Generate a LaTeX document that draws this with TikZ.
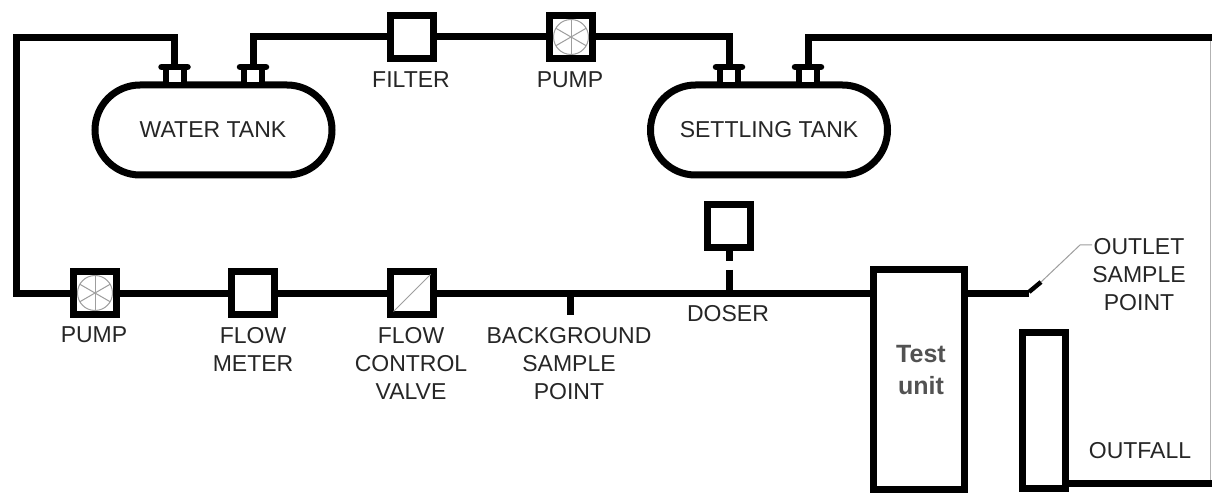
\documentclass[tikz,border=0pt]{standalone}
\usepackage{fontspec}
\setmainfont{Liberation Sans}
\begin{document}
\begin{tikzpicture}[x=1pt,y=-1pt,
  pipe/.style={line width=7pt,draw=black,line join=miter},
  unitbox/.style={draw=black,line width=7pt,fill=white,minimum width=43pt,minimum height=43pt,inner sep=0pt,outer sep=0pt},
  tall/.style={draw=black,line width=7pt,fill=white,inner sep=0pt,outer sep=0pt},
  tankshape/.style={draw=black,line width=7pt,fill=white,rounded corners=45pt,minimum width=237pt,minimum height=90pt,inner sep=0pt,outer sep=0pt},
  nozzle/.style={draw=black,line width=6pt,fill=white,minimum width=18pt,minimum height=18pt,inner sep=0pt,outer sep=0pt},
  flange/.style={line width=6.5pt,draw=black,line cap=round},
  thinpart/.style={draw=black!38,line width=1pt},
  lab/.style={text=black!85,font=\fontsize{23}{28}\selectfont,align=center,inner sep=0pt},
  boldlab/.style={text=black!68,font=\fontsize{25}{32}\selectfont\bfseries,align=center,inner sep=0pt}]
\useasboundingbox (0,0) rectangle (1212,494);
\fill[white] (0,0) rectangle (1212,494);

% right edge rule
\coordinate (edgetop) at (1210.5,38);
\coordinate (edgelow) at (1210.5,483);
\draw[draw=black!30,line width=1pt] (edgetop) -- (edgelow);

% tanks
\node[tankshape] (wt) at (213.5,130) {};
\node[tankshape] (st) at (769,130) {};
% nozzles
\node[nozzle] (n1) at (174.5,76) {};
\node[nozzle] (n2) at (253,76) {};
\node[nozzle] (n3) at (729,76) {};
\node[nozzle] (n4) at (808,76) {};
\foreach \n in {n1,n2,n3,n4}{
  \draw[flange] ([xshift=-13pt]\n.north west -| \n.center) -- ++(26pt,0);
}
% boxes
\node[unitbox] (filter) at (412,37) {};
\node[unitbox] (pumpa) at (571,37) {};
\node[unitbox] (pumpb) at (95,293) {};
\node[unitbox] (meter) at (253,293) {};
\node[unitbox] (valve) at (412,293) {};
\node[unitbox] (doser) at (729,226.5) {};
\node[tall,minimum width=91pt,minimum height=220pt] (test) at (919,379.5) {};
\node[tall,minimum width=43pt,minimum height=156pt] (outf) at (1044,410.5) {};

% named free ends
\coordinate (corner1) at (16,38);
\coordinate (corner2) at (16,293);
\coordinate (exitR) at (1212,38);
\coordinate (outR) at (1212,483);
\coordinate (bgend) at (570,315);
\coordinate (bgtop) at (570,293);
\coordinate (dosertop) at (729,261);
\coordinate (doserlow) at (729,270);
\coordinate (doserbase) at (729,293);
\coordinate (outend) at (1029,293);
\coordinate (tip) at (1041,282);
\coordinate (bend) at (1080,245);
\coordinate (leader) at (1092,245);

% pipes
\draw[pipe] (n1.north) |- (corner1) -- (corner2) -- (pumpb.west);
\draw[pipe] (n2.north) |- (filter.west);
\draw[pipe] (filter.east) -- (pumpa.west);
\draw[pipe] (pumpa.east) -| (n3.north);
\draw[pipe] (n4.north) |- (exitR);
\draw[pipe] (pumpb.east) -- (meter.west);
\draw[pipe] (meter.east) -- (valve.west);
\draw[pipe] (valve.east) -- (test.west |- valve.east);
\draw[pipe] (test.east |- outend) -- (outend);
\draw[pipe] (bgtop) -- (bgend);
\draw[pipe] (doser.south) -- (dosertop);
\draw[pipe] (doserlow) -- (doserbase);
\draw[pipe] (outf.east |- outR) -- (outR);
\draw[line width=4.5pt,draw=black] (outend) ++(0,-1) -- (tip);
\draw[thinpart] (tip) -- (bend) -- (leader);

% symbols
\foreach \c in {pumpa,pumpb}{
  \draw[thinpart] (\c.center) circle (17.5pt);
  \foreach \a in {90,30,150}{
    \draw[thinpart] ([shift={(\a:17.5pt)}]\c.center) -- ([shift={(\a+180:17.5pt)}]\c.center);
  }
}
\draw[thinpart] ([shift={(3pt,3pt)}]valve.south west) -- ([shift={(-3pt,-3pt)}]valve.north east);

% labels
\node[lab] (lwt) at (213,130) {WATER TANK};
\node[lab] (lst) at (769,130) {SETTLING TANK};
\node[lab] (lf) at (411,80) {FILTER};
\node[lab] (lp1) at (570,80) {PUMP};
\node[lab] (lp2) at (94,335) {PUMP};
\node[lab,anchor=north] (lm) at (253,327) {FLOW\\METER};
\node[lab,anchor=north] (lv) at (411,327) {FLOW\\CONTROL\\VALVE};
\node[lab,anchor=north] (lb) at (569,327) {BACKGROUND\\SAMPLE\\POINT};
\node[lab] (ld) at (728,314) {DOSER};
\node[lab,anchor=north] (lo) at (1139,238) {OUTLET\\SAMPLE\\POINT};
\node[lab] (lof) at (1140,451) {OUTFALL};
\node[boldlab] (lt) at (921,370) {Test\\unit};
\end{tikzpicture}
\end{document}
